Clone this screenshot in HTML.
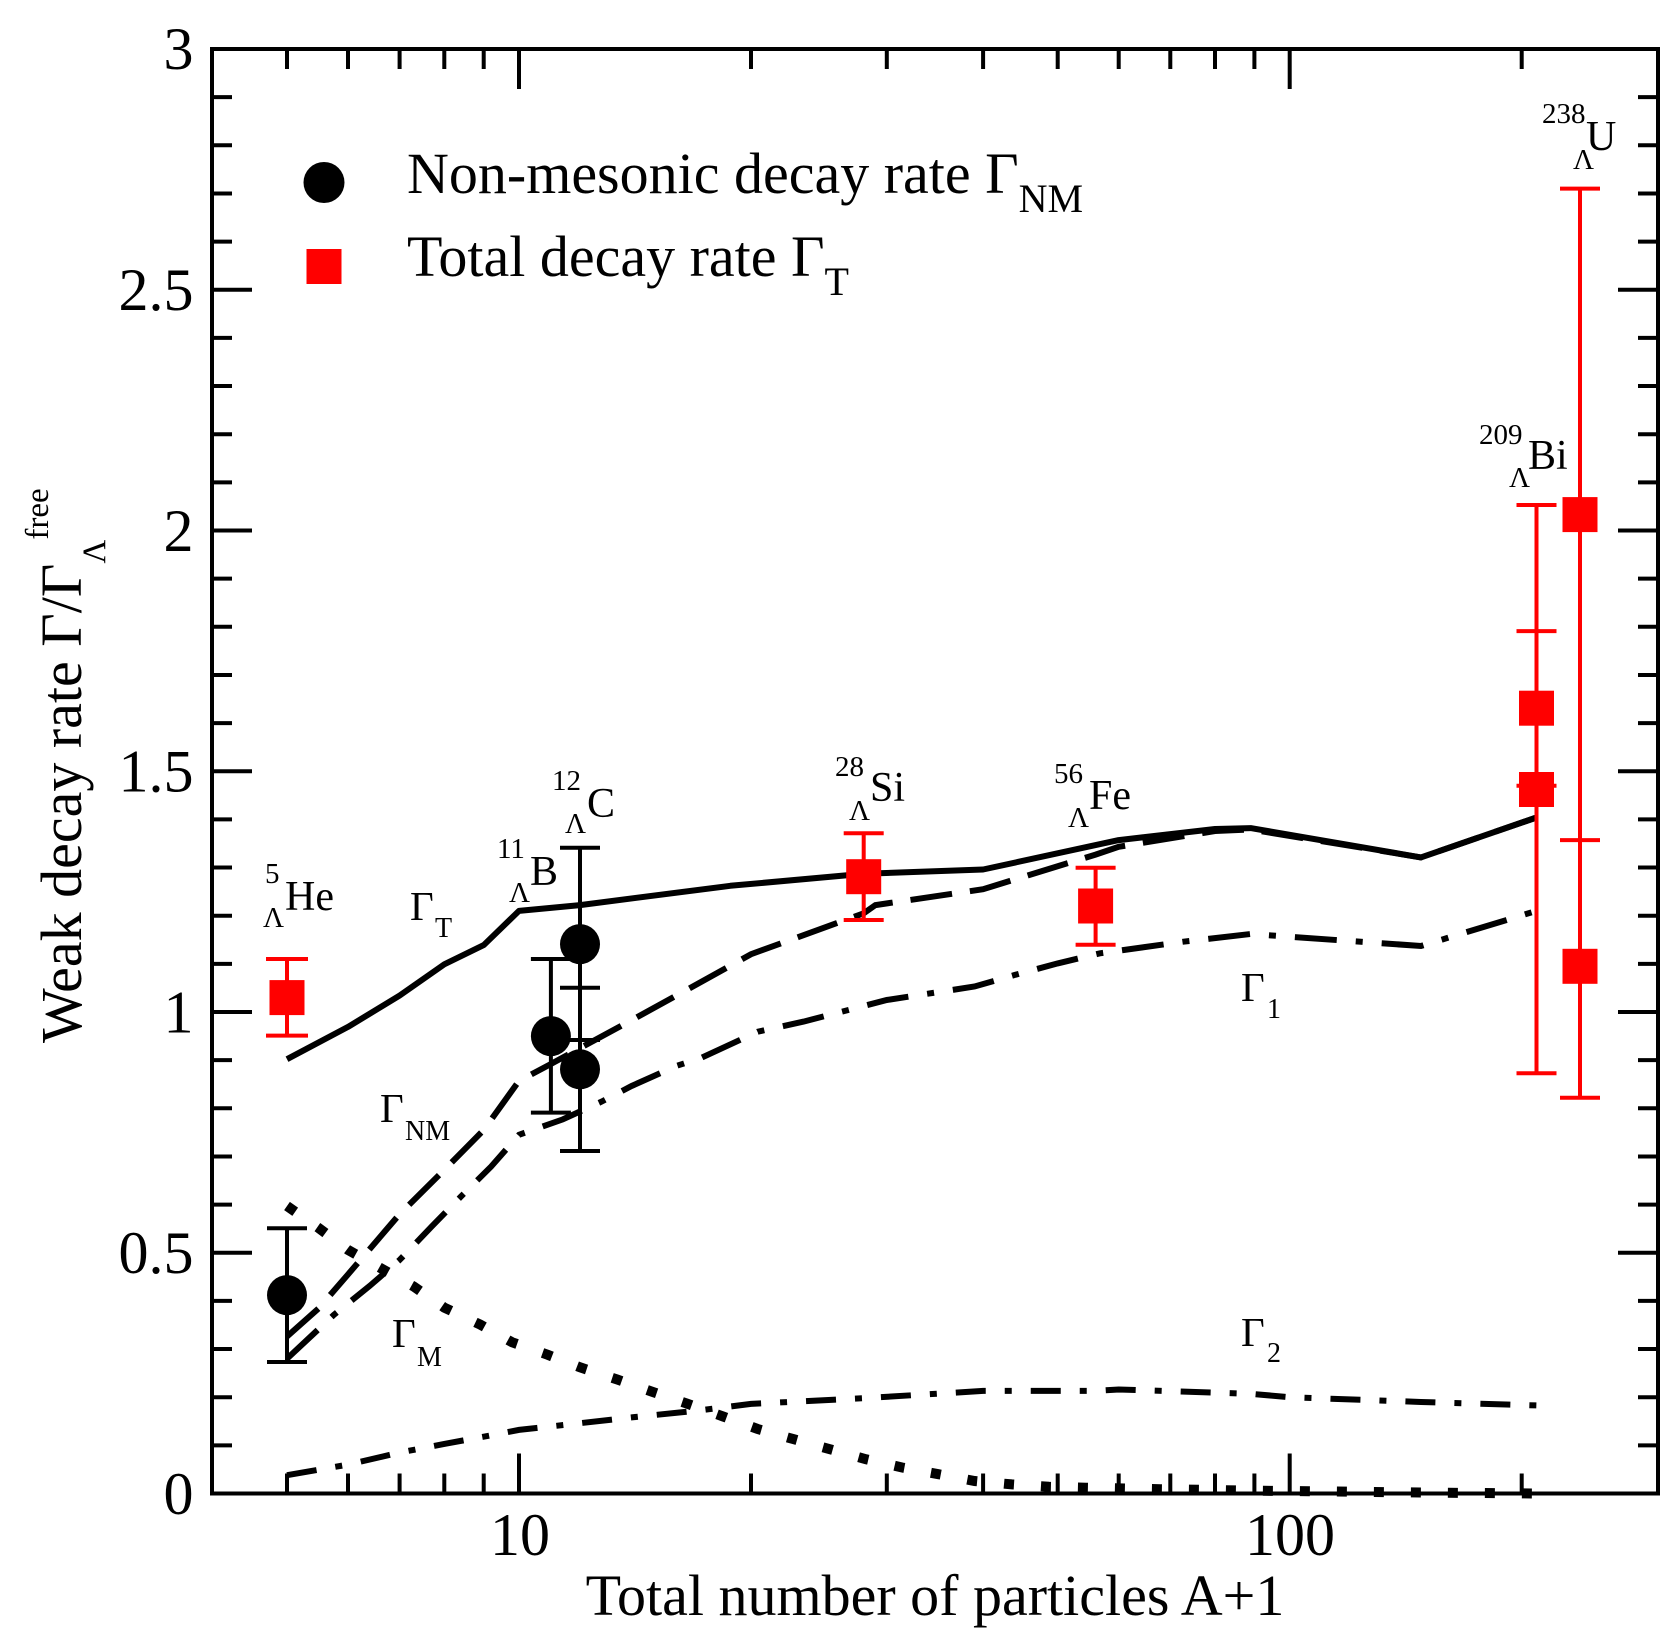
<!DOCTYPE html>
<html>
<head>
<meta charset="utf-8">
<style>
  html, body { margin: 0; padding: 0; background: #ffffff; }
  svg { display: block; }
  text { font-family: "Liberation Serif", "DejaVu Serif", serif; fill: #000; }
</style>
</head>
<body>
<svg xmlns="http://www.w3.org/2000/svg" width="1679" height="1651" viewBox="0 0 1679 1651">
  <rect x="0" y="0" width="1679" height="1651" fill="#ffffff"/>

  <!-- curves -->
  <g fill="none" stroke="#000" stroke-width="6">
    <!-- Gamma_NM dashed -->
    <polyline stroke-dasharray="42 18" points="287,1336.5 318.9,1308.1 348,1274.4 399.6,1214.2 444.3,1169.9 483.7,1130.0 519,1080.9 550.9,1064.0 580,1048.1 631.6,1020.2 686.7,989.9 751,954.2 863.7,913.3 875.4,905.1 983.1,889.2 1095.6,854.6 1118.7,846.8 1215,831.0 1250.7,829.5 1420.9,857.4 1536.5,817.5"/>
    <!-- Gamma_T solid -->
    <polyline stroke-linejoin="round" points="287,1059.2 348,1026.9 399.6,995.6 444.3,964.3 483.7,945.1 519,910.9 580,905.1 730.3,885.8 863.7,873.8 983.1,869.5 1118.7,840.1 1215,829.0 1250.7,828.1 1420.9,857.4 1536.5,817.5"/>
    <!-- Gamma_1 dash-dot -->
    <polyline stroke-dasharray="42 19 7 19" points="287,1358.7 333.8,1314.9 369.6,1286.0 399.6,1260.0 431.5,1226.7 460.6,1196.9 491.1,1166.6 519,1134.8 562.8,1119.4 601.6,1101.6 631.6,1086 676.4,1065.9 700.5,1058.2 757.7,1031.7 803.6,1021.6 886.8,1000.0 974.6,986.5 1014.9,974.9 1057.7,963.4 1100,953.3 1183.4,941.7 1250.7,934.0 1420.9,946.0 1536.5,910.9"/>
    <!-- Gamma_2 dash-dot -->
    <polyline stroke-dasharray="30 19 7 19" points="287,1475.2 348,1464.6 399.6,1452.6 444.3,1443.9 483.7,1436.7 519,1429.9 580,1423.2 631.6,1417.4 696.6,1410.7 751,1403.9 863.7,1398.2 983.1,1390.9 1095.6,1390.9 1118.7,1389.5 1250.7,1393.8 1289.7,1397.2 1420.9,1402.0 1536.5,1405.4"/>
    <!-- Gamma_M dotted -->
    <polyline stroke-width="10" stroke-dasharray="10 27" points="287,1206.0 318.9,1228.2 348,1249.9 413.7,1286.5 444.3,1307.6 480,1324.5 512.2,1342.3 547.8,1354.8 580,1367.3 616.9,1379.4 652.5,1391.9 686.7,1403.5 723.1,1416.5 757.7,1429.0 793.4,1439.1 829.8,1449.2 866.1,1459.3 902.1,1467.5 938.4,1474.2 974.6,1481.0 1011.9,1484.4 1048.9,1486.8 1085.9,1487.7 1160.6,1489.2 1250.7,1490.6 1420.9,1492.5 1536.5,1493.5"/>
  </g>

  <!-- axes frame -->
  <rect x="212" y="49" width="1446" height="1444.5" fill="none" stroke="#000" stroke-width="4"/>

  <!-- ticks -->
  <g stroke="#000" stroke-width="4" fill="none">
    <path d="M212 1445.35h20 M212 1397.2h20 M212 1349.05h20 M212 1300.9h20
             M212 1204.6h20 M212 1156.45h20 M212 1108.3h20 M212 1060.15h20
             M212 963.85h20 M212 915.7h20 M212 867.55h20 M212 819.4h20
             M212 723.1h20 M212 674.95h20 M212 626.8h20 M212 578.65h20
             M212 482.35h20 M212 434.2h20 M212 386.05h20 M212 337.9h20
             M212 241.6h20 M212 193.45h20 M212 145.3h20 M212 97.15h20"/>
    <path d="M212 1252.75h40 M212 1012h40 M212 771.25h40 M212 530.5h40 M212 289.75h40"/>
    <path d="M1658 1445.35h-20 M1658 1397.2h-20 M1658 1349.05h-20 M1658 1300.9h-20
             M1658 1204.6h-20 M1658 1156.45h-20 M1658 1108.3h-20 M1658 1060.15h-20
             M1658 963.85h-20 M1658 915.7h-20 M1658 867.55h-20 M1658 819.4h-20
             M1658 723.1h-20 M1658 674.95h-20 M1658 626.8h-20 M1658 578.65h-20
             M1658 482.35h-20 M1658 434.2h-20 M1658 386.05h-20 M1658 337.9h-20
             M1658 241.6h-20 M1658 193.45h-20 M1658 145.3h-20 M1658 97.15h-20"/>
    <path d="M1658 1252.75h-40 M1658 1012h-40 M1658 771.25h-40 M1658 530.5h-40 M1658 289.75h-40"/>
    <path d="M287 1493.5v-20 M348 1493.5v-20 M399.6 1493.5v-20 M444.3 1493.5v-20 M483.7 1493.5v-20
             M751 1493.5v-20 M886.8 1493.5v-20 M983.1 1493.5v-20 M1057.7 1493.5v-20 M1118.7 1493.5v-20
             M1170.3 1493.5v-20 M1215 1493.5v-20 M1254.4 1493.5v-20 M1521.7 1493.5v-20"/>
    <path d="M519 1493.5v-40 M1289.7 1493.5v-40"/>
    <path d="M287 49v20 M348 49v20 M399.6 49v20 M444.3 49v20 M483.7 49v20
             M751 49v20 M886.8 49v20 M983.1 49v20 M1057.7 49v20 M1118.7 49v20
             M1170.3 49v20 M1215 49v20 M1254.4 49v20 M1521.7 49v20"/>
    <path d="M519 49v40 M1289.7 49v40"/>
  </g>

  <!-- tick labels -->
  <g font-size="60" text-anchor="end">
    <text x="193.5" y="1514">0</text>
    <text x="193.5" y="1273">0.5</text>
    <text x="193.5" y="1032.5">1</text>
    <text x="193.5" y="791.5">1.5</text>
    <text x="193.5" y="551">2</text>
    <text x="193.5" y="310">2.5</text>
    <text x="193.5" y="69">3</text>
  </g>
  <g font-size="60" text-anchor="middle">
    <text x="520" y="1555">10</text>
    <text x="1290" y="1555">100</text>
  </g>

  <!-- axis titles -->
  <text x="935" y="1615" font-size="58" text-anchor="middle">Total number of particles A+1</text>
  <text transform="translate(81,1043) rotate(-90)" font-size="58">Weak decay rate Γ/Γ<tspan font-size="33" dy="24">Λ</tspan><tspan font-size="33" dy="-57">free</tspan></text>

  <!-- black data: non-mesonic -->
  <g stroke="#000" stroke-width="4" fill="none">
    <path d="M287 1228.2V1362 M267 1228.2h40 M267 1362h40"/>
    <path d="M550.9 959V1112.6 M530.9 959h40 M530.9 1112.6h40"/>
    <path d="M580 847.8V1151 M560 847.8h40 M560 1151h40 M560 987.7h40 M560 1040h40"/>
  </g>
  <g fill="#000">
    <circle cx="287" cy="1295.1" r="20"/>
    <circle cx="550.9" cy="1036.1" r="20"/>
    <circle cx="580" cy="944.1" r="20"/>
    <circle cx="580" cy="1069.3" r="20"/>
  </g>

  <!-- red data: total -->
  <g stroke="#ff0000" stroke-width="4" fill="none">
    <path d="M287 959V1035.6 M266 959h42 M266 1035.6h42"/>
    <path d="M863.7 833.3V920 M843.7 833.3h40 M843.7 920h40"/>
    <path d="M1095.6 867.7V944.7 M1075.6 867.7h40 M1075.6 944.7h40"/>
    <path d="M1536.5 505V1073.2 M1516.5 505h40 M1516.5 631.1h40 M1516.5 785.7h40 M1516.5 1073.2h40"/>
    <path d="M1580 188.6V1097.7 M1560 188.6h40 M1560 840.1h40 M1560 1097.7h40"/>
  </g>
  <g fill="#ff0000">
    <rect x="269.5" y="980.1" width="35" height="35"/>
    <rect x="846.2" y="859.2" width="35" height="35"/>
    <rect x="1078.1" y="888.5" width="35" height="35"/>
    <rect x="1519" y="690.7" width="35" height="35"/>
    <rect x="1519" y="772" width="35" height="35"/>
    <rect x="1562.5" y="497.1" width="35" height="35"/>
    <rect x="1562.5" y="948.8" width="35" height="35"/>
  </g>

  <!-- legend -->
  <circle cx="324" cy="182.5" r="20.5" fill="#000"/>
  <rect x="306.5" y="249" width="35" height="35" fill="#ff0000"/>
  <text x="407" y="193" font-size="58">Non-mesonic decay rate Γ<tspan font-size="40" dy="19">NM</tspan></text>
  <text x="407" y="276" font-size="58">Total decay rate Γ<tspan font-size="40" dy="19">T</tspan></text>

  <!-- nuclide labels -->
  <g>
    <text x="265" y="883" font-size="29">5</text>
    <text x="263" y="927" font-size="29">Λ</text>
    <text x="285" y="910" font-size="42">He</text>

    <text x="497" y="858" font-size="29">11</text>
    <text x="509" y="902" font-size="29">Λ</text>
    <text x="530" y="885" font-size="42">B</text>

    <text x="552" y="790" font-size="29">12</text>
    <text x="565" y="833" font-size="29">Λ</text>
    <text x="587" y="817" font-size="42">C</text>

    <text x="835" y="776" font-size="29">28</text>
    <text x="849" y="820" font-size="29">Λ</text>
    <text x="870" y="801" font-size="42">Si</text>

    <text x="1054" y="783" font-size="29">56</text>
    <text x="1068" y="827" font-size="29">Λ</text>
    <text x="1089" y="809" font-size="42">Fe</text>

    <text x="1479" y="444" font-size="29">209</text>
    <text x="1509" y="487" font-size="29">Λ</text>
    <text x="1528" y="469" font-size="42">Bi</text>

    <text x="1542" y="123" font-size="29">238</text>
    <text x="1573" y="169" font-size="29">Λ</text>
    <text x="1586" y="150" font-size="42">U</text>
  </g>

  <!-- curve labels -->
  <g>
    <text x="410" y="920" font-size="41">Γ</text>
    <text x="435" y="937" font-size="28">T</text>

    <text x="380" y="1122" font-size="41">Γ</text>
    <text x="405" y="1140" font-size="28">NM</text>

    <text x="392" y="1347" font-size="41">Γ</text>
    <text x="417" y="1366" font-size="28">M</text>

    <text x="1241" y="1001" font-size="41">Γ</text>
    <text x="1267" y="1018" font-size="28">1</text>

    <text x="1241" y="1346" font-size="41">Γ</text>
    <text x="1267" y="1362" font-size="28">2</text>
  </g>
</svg>
</body>
</html>
